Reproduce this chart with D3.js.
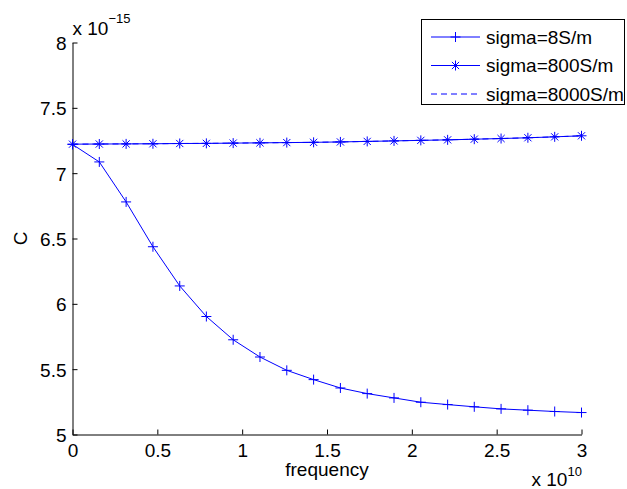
<!DOCTYPE html>
<html><head><meta charset="utf-8">
<script src="https://cdn.jsdelivr.net/npm/d3@7"></script>
<style>
body{margin:0;background:#fff;}
svg{display:block;font-family:"Liberation Sans",Arial,sans-serif;}
</style></head>
<body>
<svg id="chart" width="627" height="489"></svg>
<script>
// frequency in units of 1e10 Hz
const freq = [0, 0.158, 0.316, 0.474, 0.632, 0.789, 0.947, 1.105, 1.263, 1.421, 1.579, 1.737, 1.895, 2.053, 2.211, 2.368, 2.526, 2.684, 2.842, 3.0];
// capacitance in units of 1e-15 F
const sigma8 = [7.22, 7.086, 6.78, 6.437, 6.137, 5.903, 5.725, 5.593, 5.491, 5.42, 5.356, 5.313, 5.28, 5.247, 5.229, 5.212, 5.196, 5.186, 5.176, 5.168];
const sigma800 = [7.222, 7.223, 7.224, 7.225, 7.227, 7.228, 7.230, 7.232, 7.234, 7.236, 7.239, 7.243, 7.247, 7.251, 7.255, 7.260, 7.265, 7.271, 7.278, 7.286];
const sigma8000 = [7.222, 7.223, 7.224, 7.225, 7.227, 7.228, 7.230, 7.232, 7.234, 7.236, 7.239, 7.243, 7.247, 7.251, 7.255, 7.260, 7.265, 7.271, 7.278, 7.286];
const seriesNames = ["sigma=8S/m", "sigma=800S/m", "sigma=8000S/m"];
const xTicks = [0, 0.5, 1, 1.5, 2, 2.5, 3];
const yTicks = [5, 5.5, 6, 6.5, 7, 7.5, 8];

const svg = d3.select("#chart");
const L = 72.5, R = 581.5, T = 42.5, B = 434.5;
const x = d3.scaleLinear().domain([0, 3]).range([L, R]);
const y = d3.scaleLinear().domain([5, 8]).range([B, T]);
const blue = "#0000ff";
const fs = 19;

// axes (inward ticks, MATLAB style)
const xAxis = d3.axisBottom(x).tickValues(xTicks).tickSizeInner(-5).tickSizeOuter(0).tickPadding(9).tickFormat(d3.format("~g"));
const yAxis = d3.axisLeft(y).tickValues(yTicks).tickSizeInner(-5).tickSizeOuter(0).tickPadding(6).tickFormat(d3.format("~g"));
const gx = svg.append("g").attr("transform", `translate(0,${B})`).call(xAxis);
const gy = svg.append("g").attr("transform", `translate(${L},0)`).call(yAxis);
[gx, gy].forEach(g => {
  g.selectAll("path").attr("stroke", "#000");
  g.selectAll("line").attr("stroke", "#000");
  g.selectAll("text").attr("font-size", fs).attr("fill", "#000").attr("font-family", "Liberation Sans, Arial, sans-serif");
});
gx.selectAll("text").attr("dy", "0.71em");
gy.selectAll("text").attr("dy", "0.36em");

// exponent labels
const ty = svg.append("text").attr("x", 72.5).attr("y", 35).attr("font-size", fs).attr("fill", "#000");
ty.append("tspan").text("x 10");
ty.append("tspan").attr("font-size", 13).attr("dy", -12).text("\u221215");
const tx = svg.append("text").attr("x", 531.5).attr("y", 486).attr("font-size", fs).attr("fill", "#000");
tx.append("tspan").text("x 10");
tx.append("tspan").attr("font-size", 13).attr("dy", -10).text("10");

// axis titles
svg.append("text").attr("x", (L + R) / 2).attr("y", 476).attr("text-anchor", "middle").attr("font-size", fs).text("frequency");
svg.append("text").attr("transform", `translate(27,${(T + B) / 2}) rotate(-90)`).attr("text-anchor", "middle").attr("font-size", fs).text("C");

// markers
function plusMarker(g, cx, cy, s) {
  g.append("path").attr("d", `M${cx - s},${cy}H${cx + s}M${cx},${cy - s}V${cy + s}`).attr("stroke", blue).attr("fill", "none").attr("stroke-width", 1);
}
function starMarker(g, cx, cy, s) {
  const d = s * 0.72;
  g.append("path").attr("d", `M${cx - s},${cy}H${cx + s}M${cx},${cy - s}V${cy + s}M${cx - d},${cy - d}L${cx + d},${cy + d}M${cx - d},${cy + d}L${cx + d},${cy - d}`).attr("stroke", blue).attr("fill", "none").attr("stroke-width", 1);
}

const line = d3.line().x(d => x(d[0])).y(d => y(d[1]));
const plot = svg.append("g");
function drawSeries(vals, dash, marker) {
  const pts = freq.map((f, i) => [f, vals[i]]);
  plot.append("path").datum(pts).attr("d", line).attr("fill", "none").attr("stroke", blue).attr("stroke-width", 1).attr("stroke-dasharray", dash);
  if (marker) pts.forEach(p => marker(plot, x(p[0]), y(p[1]), 5));
}
drawSeries(sigma8, null, plusMarker);
drawSeries(sigma800, null, starMarker);
drawSeries(sigma8000, "6,4", null);

// legend
const lg = svg.append("g");
lg.append("rect").attr("x", 421.5).attr("y", 19.5).attr("width", 203).attr("height", 85).attr("fill", "#fff").attr("stroke", "#000").attr("stroke-width", 1);
const rows = [37, 65.5, 94];
const legMarkers = [plusMarker, starMarker, null];
const legDash = [null, null, "6,4"];
seriesNames.forEach((name, i) => {
  const yy = rows[i];
  lg.append("path").attr("d", `M431,${yy}H480`).attr("stroke", blue).attr("stroke-width", 1).attr("stroke-dasharray", legDash[i]).attr("fill", "none");
  if (legMarkers[i]) legMarkers[i](lg, 455.5, yy, 5);
  lg.append("text").attr("x", 486).attr("y", yy).attr("dy", "0.36em").attr("font-size", fs).attr("fill", "#000").text(name);
});
</script>
</body></html>
